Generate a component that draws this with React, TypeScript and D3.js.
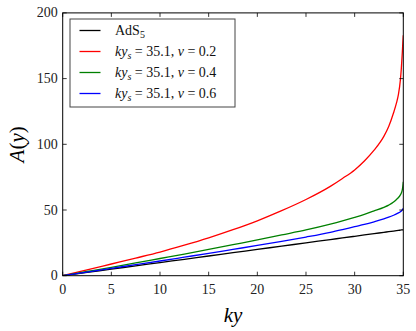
import React, { useRef, useEffect } from 'react';
import * as d3 from 'd3';

const kyValues = [0, 2.5, 5, 7.5, 10, 12.5, 15, 17.5, 20, 22.5, 25, 27.5, 28.75, 30, 31, 32, 33, 33.5, 34, 34.3, 34.5, 34.7, 34.8, 34.9, 34.95, 35];
const adsValues = [0, 2.5, 5, 7.5, 10, 12.5, 15, 17.5, 20, 22.5, 25, 27.5, 28.75, 30, 31, 32, 33, 33.5, 34, 34.3, 34.5, 34.7, 34.8, 34.9, 34.95, 35];
const nu02Values = [0, 4.4, 8.9, 13.4, 18, 23.2, 28.8, 35, 41.8, 49.5, 58, 68, 74, 80.5, 87.3, 95.5, 106, 113.5, 124, 131.5, 138, 149, 158, 170, 177, 183];
const nu04Values = [0, 3.2, 6.4, 9.7, 13.1, 16.5, 20, 23.6, 27.2, 31, 34.8, 39.2, 41.7, 44.4, 46.7, 49.3, 52, 53.7, 56, 58, 59.5, 61.5, 63, 65.5, 68, 71.5];
const nu06Values = [0, 2.8, 5.6, 8.4, 11.2, 14.1, 17, 20, 23, 26.1, 29.4, 33, 35.1, 37.3, 39, 41, 43.2, 44.5, 46, 47, 47.8, 48.7, 49.3, 50.1, 50.6, 51.3];

const xTicks = [0, 5, 10, 15, 20, 25, 30, 35];
const yTicks = [0, 50, 100, 150, 200];
const nuLabels = ['0.2', '0.4', '0.6'];

const series = [
    { name: 'ads', color: '#000000', values: adsValues },
    { name: 'nu02', color: '#ff0000', values: nu02Values },
    { name: 'nu04', color: '#008000', values: nu04Values },
    { name: 'nu06', color: '#0000ff', values: nu06Values },
];

const FONT = "'Liberation Serif', 'Times New Roman', 'DejaVu Serif', serif";

const App = () => {
    const chartRef = useRef<SVGSVGElement>(null);

    useEffect(() => {
        const width = 416;
        const height = 331;
        const margin = { top: 12.9, right: 12.7, bottom: 55.3, left: 62.7 };

        const x = d3.scaleLinear()
            .domain([0, 35])
            .range([margin.left, width - margin.right]);

        const y = d3.scaleLinear()
            .domain([0, 200])
            .range([height - margin.bottom, margin.top]);

        const svg = d3.select(chartRef.current)
            .attr('width', width)
            .attr('height', height)
            .style('font-family', FONT);

        svg.selectAll('*').remove();

        const line = d3.line<number>()
            .x((d, i) => x(kyValues[i]))
            .y(d => y(d))
            .curve(d3.curveMonotoneX);

        const clip = svg.append('defs').append('clipPath').attr('id', 'plotclip');
        clip.append('rect')
            .attr('x', x(0))
            .attr('y', y(200))
            .attr('width', x(35) - x(0))
            .attr('height', y(0) - y(200));

        svg.append('g')
            .attr('clip-path', 'url(#plotclip)')
            .selectAll('path')
            .data(series)
            .join('path')
            .attr('fill', 'none')
            .attr('stroke', d => d.color)
            .attr('stroke-width', 1.3)
            .attr('d', d => line(d.values));

        // frame
        svg.append('rect')
            .attr('x', x(0))
            .attr('y', y(200))
            .attr('width', x(35) - x(0))
            .attr('height', y(0) - y(200))
            .attr('fill', 'none')
            .attr('stroke', '#000')
            .attr('stroke-width', 1);

        // inward ticks, all four sides
        const ticks = svg.append('g').attr('stroke', '#000').attr('stroke-width', 0.8);
        xTicks.forEach(t => {
            ticks.append('line').attr('x1', x(t)).attr('x2', x(t)).attr('y1', y(0)).attr('y2', y(0) - 4);
            ticks.append('line').attr('x1', x(t)).attr('x2', x(t)).attr('y1', y(200)).attr('y2', y(200) + 4);
        });
        yTicks.forEach(t => {
            ticks.append('line').attr('x1', x(0)).attr('x2', x(0) + 4).attr('y1', y(t)).attr('y2', y(t));
            ticks.append('line').attr('x1', x(35)).attr('x2', x(35) - 4).attr('y1', y(t)).attr('y2', y(t));
        });

        svg.append('g')
            .selectAll('text')
            .data(xTicks)
            .join('text')
            .attr('x', d => x(d))
            .attr('y', y(0) + 18)
            .attr('text-anchor', 'middle')
            .style('font-family', FONT)
            .attr('font-size', 14)
            .attr('fill', '#222')
            .text(d => d);

        svg.append('g')
            .selectAll('text')
            .data(yTicks)
            .join('text')
            .attr('x', x(0) - 5)
            .attr('y', d => y(d) + 4.5)
            .attr('text-anchor', 'end')
            .style('font-family', FONT)
            .attr('font-size', 14)
            .attr('fill', '#222')
            .text(d => d);

        // axis labels
        svg.append('text')
            .attr('x', (x(0) + x(35)) / 2)
            .attr('y', 322)
            .attr('text-anchor', 'middle')
            .style('font-family', FONT)
            .attr('font-size', 21)
            .attr('font-style', 'italic')
            .text('ky');

        const yl = svg.append('text')
            .attr('transform', `translate(24,${(y(0) + y(200)) / 2}) rotate(-90)`)
            .attr('text-anchor', 'middle')
            .style('font-family', FONT)
            .attr('font-size', 21);
        yl.append('tspan').attr('font-style', 'italic').text('A');
        yl.append('tspan').text('(');
        yl.append('tspan').attr('font-style', 'italic').text('y');
        yl.append('tspan').text(')');

        // legend
        const lg = svg.append('g');
        lg.append('rect')
            .attr('x', 70)
            .attr('y', 19)
            .attr('width', 165)
            .attr('height', 88)
            .attr('fill', '#fff')
            .attr('stroke', '#444')
            .attr('stroke-width', 1);

        const rowY = [30.5, 51.5, 72.5, 93.5];
        series.forEach((s, i) => {
            lg.append('line')
                .attr('x1', 79.5).attr('x2', 100.5)
                .attr('y1', rowY[i]).attr('y2', rowY[i])
                .attr('stroke', s.color)
                .attr('stroke-width', 1.3);
            const t = lg.append('text')
                .attr('x', 115)
                .attr('y', rowY[i] + 4.5)
                .style('font-family', FONT)
                .attr('font-size', 14)
                .attr('fill', '#111');
            if (i === 0) {
                t.append('tspan').text('AdS');
                t.append('tspan').attr('font-size', 10).attr('dy', 3).text('5');
            } else {
                t.append('tspan').attr('font-style', 'italic').text('ky');
                t.append('tspan').attr('font-style', 'italic').attr('font-size', 10).attr('dy', 3).text('s');
                t.append('tspan').attr('dy', -3).text(' = 35.1, ');
                t.append('tspan').attr('font-style', 'italic').text('ν');
                t.append('tspan').text(' = ' + nuLabels[i - 1]);
            }
        });
    }, []);

    return (
        <svg ref={chartRef} style={{ position: 'absolute', left: 0, top: 0 }}></svg>
    );
};

export default App;
